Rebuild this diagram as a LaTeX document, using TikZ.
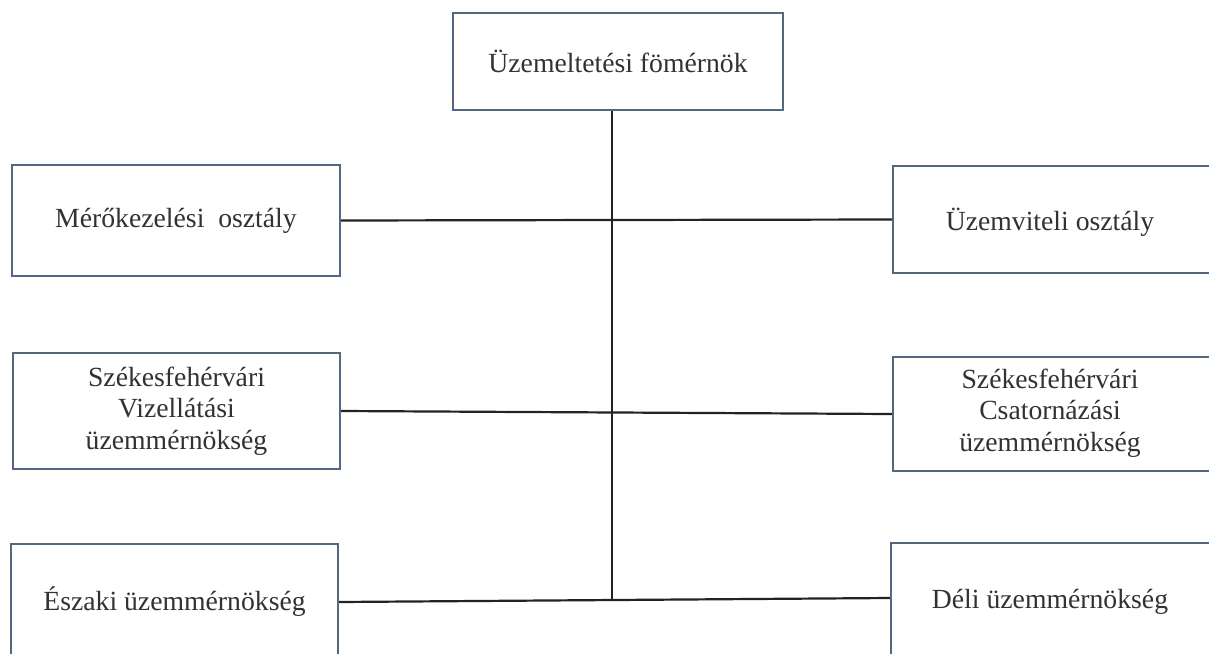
\documentclass[tikz,border=0pt]{standalone}
\usepackage{fontspec}
\setmainfont{Liberation Serif}
\definecolor{boxcol}{RGB}{84,104,128}
\definecolor{linecol}{RGB}{35,35,35}
\definecolor{txtcol}{RGB}{50,50,50}
\tikzset{orgfont/.style={font=\fontsize{27.7}{31.5}\selectfont}}
\begin{document}
\begin{tikzpicture}[x=1pt,y=-1pt,
  orgbox/.style={draw=boxcol,line width=2.4pt,fill=white,inner sep=0pt,
    text=txtcol,align=center,orgfont},
  orgtext/.style={text=txtcol,align=center,orgfont},
  conn/.style={draw=linecol,line width=2.2pt}]
\useasboundingbox (0,0) rectangle (1209,653);
\clip (0,0) rectangle (1209,653);
\fill[white] (0,0) rectangle (1209,653);
% nodes
\node[orgbox,minimum width=330pt,minimum height=97pt] (top) at (618,61.5) {Üzemeltetési fömérnök};
\node[orgbox,minimum width=328pt,minimum height=111pt] (l1) at (176,220.5) {Mérőkezelési\ \ osztály};
\node[orgbox,minimum width=330pt,minimum height=107pt] (r1) at (1058,219.5) {};
\node[orgtext] (r1t) at (1050,222) {Üzemviteli osztály};
\node[orgbox,minimum width=327pt,minimum height=116pt] (l2) at (176.5,411) {Székesfehérvári\\Vizellátási\\üzemmérnökség};
\node[orgbox,minimum width=330pt,minimum height=114pt] (r2) at (1058,414) {};
\node[orgtext] (r2t) at (1050,413) {Székesfehérvári\\Csatornázási\\üzemmérnökség};
\node[orgbox,minimum width=327pt,minimum height=126pt] (l3) at (174.5,607) {};
\node[orgtext] (l3t) at (174.5,602) {Északi üzemmérnökség};
\node[orgbox,minimum width=330pt,minimum height=127pt] (r3) at (1056,606.5) {};
\node[orgtext] (r3t) at (1050,602) {Déli üzemmérnökség};
% connectors
\coordinate (j) at (612,600);
\draw[conn] (top.south -| j) -- (j);
\draw[conn] (l1.east) -- (r1.west);
\draw[conn] (l2.east) -- (r2.west);
\draw[conn] (l3.east |- 0,602) -- (r3.west |- 0,598);
\end{tikzpicture}
\end{document}
